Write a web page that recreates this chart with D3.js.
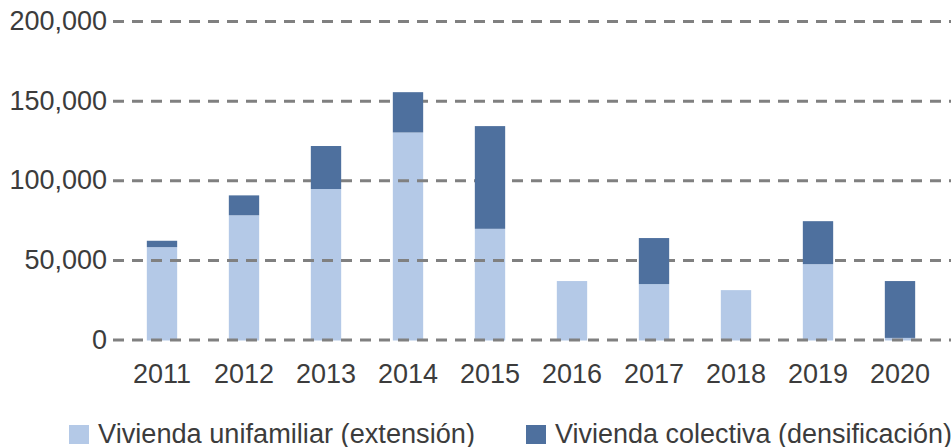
<!DOCTYPE html>
<html>
<head>
<meta charset="utf-8">
<script src="https://cdn.jsdelivr.net/npm/d3@7"></script>
<style>
  body { margin: 0; background: #fff; }
  text { font-family: "Liberation Sans", Arial, sans-serif; fill: #3c3c3c; }
</style>
</head>
<body>
<div id="chart"></div>
<script>
// datos
var years = ["2011", "2012", "2013", "2014", "2015", "2016", "2017", "2018", "2019", "2020"];
var unifamiliar = [58000, 78000, 94500, 130000, 69500, 36700, 34800, 31000, 47300, 1000];
var colectiva = [4000, 12500, 27000, 25300, 64500, 0, 28900, 0, 27000, 35700];
var yTicks = [0, 50000, 100000, 150000, 200000];
var seriesNames = ["Vivienda unifamiliar (extensión)", "Vivienda colectiva (densificación)"];
var colors = ["#b4c9e7", "#4e709e"];

var W = 951, H = 447;

var svg = d3.select("#chart").append("svg")
    .attr("width", W)
    .attr("height", H);

// escalas
var x = d3.scaleBand()
    .domain(years)
    .range([121, 941])
    .paddingInner(0.63)
    .paddingOuter(0.315);

var y = d3.scaleLinear()
    .domain([0, 200000])
    .range([339.5, 21]);

var fmt = function (d) { return d3.format(",")(d); };

// barras unifamiliar (debajo de la rejilla)
svg.append("g").selectAll("rect")
    .data(years)
    .enter().append("rect")
    .attr("x", function (d) { return x(d); })
    .attr("width", x.bandwidth())
    .attr("y", function (d, i) { return y(unifamiliar[i]); })
    .attr("height", function (d, i) { return y(0) - y(unifamiliar[i]) + 1; })
    .style("fill", colors[0]);

// rejilla + etiquetas del eje Y
var yAxis = svg.append("g")
    .attr("transform", "translate(113,0)")
    .call(d3.axisLeft(y)
        .tickValues(yTicks)
        .tickSize(-(W - 113))
        .tickPadding(6)
        .tickFormat(fmt));

yAxis.select(".domain").remove();
yAxis.selectAll("line")
    .attr("x1", 0)
    .style("stroke", "#808080")
    .style("stroke-width", "3px")
    .style("stroke-dasharray", "11,8");
yAxis.selectAll("text")
    .attr("x", -6)
    .style("font-size", "27px")
    .style("fill", "#3c3c3c");

// barras colectiva (encima de la rejilla)
svg.append("g").selectAll("rect")
    .data(years)
    .enter().append("rect")
    .attr("x", function (d) { return x(d); })
    .attr("width", x.bandwidth())
    .attr("y", function (d, i) { return y(unifamiliar[i] + colectiva[i]); })
    .attr("height", function (d, i) { return y(unifamiliar[i]) - y(unifamiliar[i] + colectiva[i]); })
    .style("fill", colors[1]);

// eje X
var xAxis = svg.append("g")
    .attr("transform", "translate(0,364)")
    .call(d3.axisBottom(x).tickSize(0).tickPadding(0));
xAxis.select(".domain").remove();
xAxis.selectAll("text")
    .attr("dy", "0.71em")
    .style("font-size", "27px")
    .style("fill", "#3c3c3c");

// leyenda
var legendX = [69, 526];
var legendTextX = [98, 555];
var legendTextLen = [377, 397];
var legend = svg.append("g");
seriesNames.forEach(function (name, i) {
    legend.append("rect")
        .attr("x", legendX[i])
        .attr("y", 425)
        .attr("width", 20)
        .attr("height", 19)
        .style("fill", colors[i]);
    legend.append("text")
        .attr("x", legendTextX[i])
        .attr("y", 443)
        .attr("textLength", legendTextLen[i])
        .attr("lengthAdjust", "spacingAndGlyphs")
        .style("font-size", "27px")
        .text(name);
});
</script>
</body>
</html>
